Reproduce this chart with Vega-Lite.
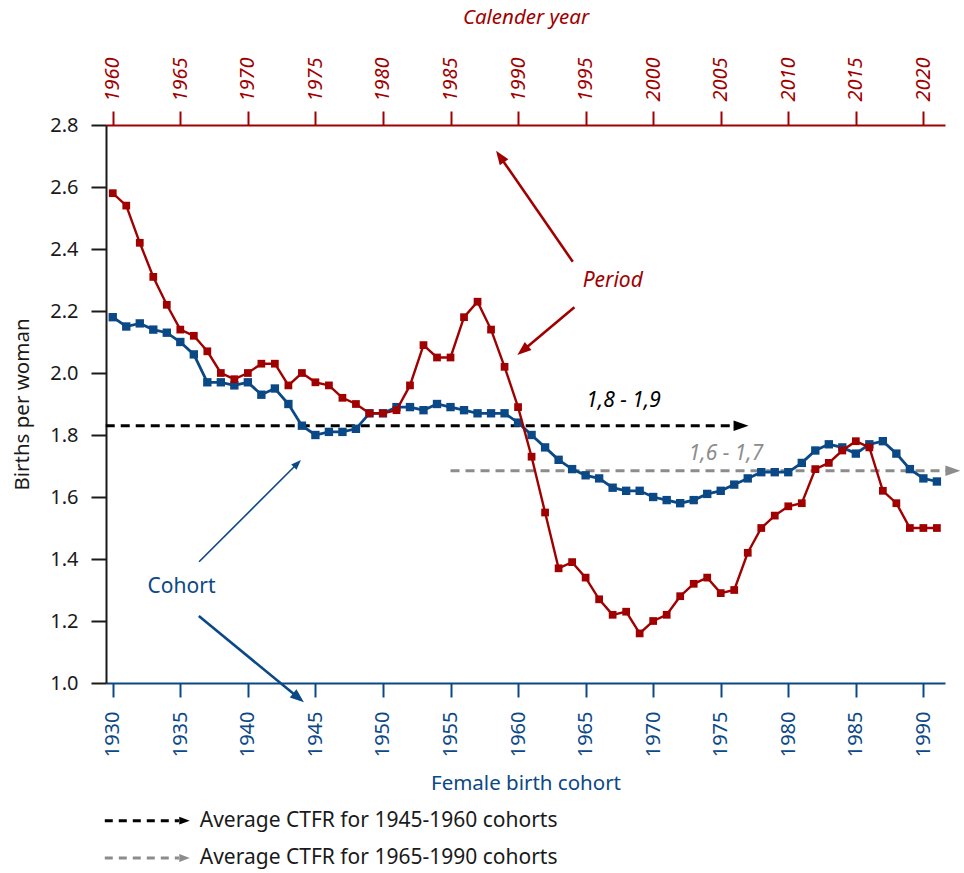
{
  "$schema": "https://vega.github.io/schema/vega-lite/v6.json",
  "width": 839,
  "height": 558,
  "autosize": {"type": "none"},
  "padding": {"left": 106, "top": 125, "right": 19, "bottom": 190},
  "config": {"font": "Noto Sans", "view": {"stroke": null}},
  "datasets": {
    "cohort": [
      {"cohort":1930,"tfr":2.18},{"cohort":1931,"tfr":2.15},{"cohort":1932,"tfr":2.16},{"cohort":1933,"tfr":2.14},{"cohort":1934,"tfr":2.13},
      {"cohort":1935,"tfr":2.10},{"cohort":1936,"tfr":2.06},{"cohort":1937,"tfr":1.97},{"cohort":1938,"tfr":1.97},{"cohort":1939,"tfr":1.96},
      {"cohort":1940,"tfr":1.97},{"cohort":1941,"tfr":1.93},{"cohort":1942,"tfr":1.95},{"cohort":1943,"tfr":1.90},{"cohort":1944,"tfr":1.83},
      {"cohort":1945,"tfr":1.80},{"cohort":1946,"tfr":1.81},{"cohort":1947,"tfr":1.81},{"cohort":1948,"tfr":1.82},{"cohort":1949,"tfr":1.87},
      {"cohort":1950,"tfr":1.87},{"cohort":1951,"tfr":1.89},{"cohort":1952,"tfr":1.89},{"cohort":1953,"tfr":1.88},{"cohort":1954,"tfr":1.90},
      {"cohort":1955,"tfr":1.89},{"cohort":1956,"tfr":1.88},{"cohort":1957,"tfr":1.87},{"cohort":1958,"tfr":1.87},{"cohort":1959,"tfr":1.87},
      {"cohort":1960,"tfr":1.84},{"cohort":1961,"tfr":1.80},{"cohort":1962,"tfr":1.76},{"cohort":1963,"tfr":1.72},{"cohort":1964,"tfr":1.69},
      {"cohort":1965,"tfr":1.67},{"cohort":1966,"tfr":1.66},{"cohort":1967,"tfr":1.63},{"cohort":1968,"tfr":1.62},{"cohort":1969,"tfr":1.62},
      {"cohort":1970,"tfr":1.60},{"cohort":1971,"tfr":1.59},{"cohort":1972,"tfr":1.58},{"cohort":1973,"tfr":1.59},{"cohort":1974,"tfr":1.61},
      {"cohort":1975,"tfr":1.62},{"cohort":1976,"tfr":1.64},{"cohort":1977,"tfr":1.66},{"cohort":1978,"tfr":1.68},{"cohort":1979,"tfr":1.68},
      {"cohort":1980,"tfr":1.68},{"cohort":1981,"tfr":1.71},{"cohort":1982,"tfr":1.75},{"cohort":1983,"tfr":1.77},{"cohort":1984,"tfr":1.76},
      {"cohort":1985,"tfr":1.74},{"cohort":1986,"tfr":1.77},{"cohort":1987,"tfr":1.78},{"cohort":1988,"tfr":1.74},{"cohort":1989,"tfr":1.69},
      {"cohort":1990,"tfr":1.66},{"cohort":1991,"tfr":1.65}
    ],
    "period": [
      {"year":1960,"tfr":2.58},{"year":1961,"tfr":2.54},{"year":1962,"tfr":2.42},{"year":1963,"tfr":2.31},{"year":1964,"tfr":2.22},
      {"year":1965,"tfr":2.14},{"year":1966,"tfr":2.12},{"year":1967,"tfr":2.07},{"year":1968,"tfr":2.00},{"year":1969,"tfr":1.98},
      {"year":1970,"tfr":2.00},{"year":1971,"tfr":2.03},{"year":1972,"tfr":2.03},{"year":1973,"tfr":1.96},{"year":1974,"tfr":2.00},
      {"year":1975,"tfr":1.97},{"year":1976,"tfr":1.96},{"year":1977,"tfr":1.92},{"year":1978,"tfr":1.90},{"year":1979,"tfr":1.87},
      {"year":1980,"tfr":1.87},{"year":1981,"tfr":1.88},{"year":1982,"tfr":1.96},{"year":1983,"tfr":2.09},{"year":1984,"tfr":2.05},
      {"year":1985,"tfr":2.05},{"year":1986,"tfr":2.18},{"year":1987,"tfr":2.23},{"year":1988,"tfr":2.14},{"year":1989,"tfr":2.02},
      {"year":1990,"tfr":1.89},{"year":1991,"tfr":1.73},{"year":1992,"tfr":1.55},{"year":1993,"tfr":1.37},{"year":1994,"tfr":1.39},
      {"year":1995,"tfr":1.34},{"year":1996,"tfr":1.27},{"year":1997,"tfr":1.22},{"year":1998,"tfr":1.23},{"year":1999,"tfr":1.16},
      {"year":2000,"tfr":1.20},{"year":2001,"tfr":1.22},{"year":2002,"tfr":1.28},{"year":2003,"tfr":1.32},{"year":2004,"tfr":1.34},
      {"year":2005,"tfr":1.29},{"year":2006,"tfr":1.30},{"year":2007,"tfr":1.42},{"year":2008,"tfr":1.50},{"year":2009,"tfr":1.54},
      {"year":2010,"tfr":1.57},{"year":2011,"tfr":1.58},{"year":2012,"tfr":1.69},{"year":2013,"tfr":1.71},{"year":2014,"tfr":1.75},
      {"year":2015,"tfr":1.78},{"year":2016,"tfr":1.76},{"year":2017,"tfr":1.62},{"year":2018,"tfr":1.58},{"year":2019,"tfr":1.50},
      {"year":2020,"tfr":1.50},{"year":2021,"tfr":1.50}
    ],
    "avg": [
      {"group":"1945-1960","label":"1,8 - 1,9","x":1929.48,"x2":1976.1,"tip":1977.06,"y":1.83,"lx":1967.8,"ly":1.911},
      {"group":"1965-1990","label":"1,6 - 1,7","x":1955.0,"x2":1991.85,"tip":1992.74,"y":1.685,"lx":1975.39,"ly":1.739}
    ],
    "legend": [
      {"group":"1945-1960","x":1929.41,"x2":1934.9,"tip":1935.7,"tx":1936.44,"y":0.556,"label":"Average CTFR for 1945-1960 cohorts"},
      {"group":"1965-1990","x":1929.41,"x2":1934.9,"tip":1935.7,"tx":1936.44,"y":0.4355,"label":"Average CTFR for 1965-1990 cohorts"}
    ],
    "arrows": [
      {"key":"period1","x":1964.05,"y":2.359,"x2":1958.62,"y2":2.701,"hx":1958.37,"hy":2.717},
      {"key":"period2","x":1964.17,"y":2.212,"x2":1960.29,"y2":2.0705,"hx":1959.95,"hy":2.058},
      {"key":"cohort1","x":1936.39,"y":1.391,"x2":1943.67,"y2":1.708,"hx":1943.93,"hy":1.719},
      {"key":"cohort2","x":1936.37,"y":1.216,"x2":1943.81,"y2":0.95,"hx":1944.15,"hy":0.938}
    ],
    "labels": [
      {"key":"Period","x":1967.01,"y":2.298},
      {"key":"Cohort","x":1935.09,"y":1.309}
    ]
  },
  "layer": [
    {
      "data": {"name": "avg"},
      "mark": {"type": "rule", "strokeWidth": 3, "strokeDash": [9, 6]},
      "encoding": {
        "x": {"field": "x", "type": "quantitative", "scale": {"domain": [1929.5, 1991.6], "nice": false, "zero": false}, "axis": null},
        "x2": {"field": "x2"},
        "y": {"field": "y", "type": "quantitative", "scale": {"domain": [1.0, 2.8], "nice": false, "zero": false}, "axis": null},
        "color": {"field": "group", "type": "nominal", "scale": {"domain": ["1945-1960", "1965-1990"], "range": ["#000000", "#8c8c8c"]}, "legend": null}
      }
    },
    {
      "data": {"name": "avg"},
      "mark": {"type": "point", "shape": "M0,0L-2,-0.7L-2,0.7Z", "filled": true, "opacity": 1, "size": 225, "angle": 0},
      "encoding": {
        "x": {"field": "tip", "type": "quantitative", "scale": {"domain": [1929.5, 1991.6], "nice": false, "zero": false}, "axis": null},
        "y": {"field": "y", "type": "quantitative", "scale": {"domain": [1.0, 2.8], "nice": false, "zero": false}, "axis": null},
        "color": {"field": "group", "type": "nominal", "scale": {"domain": ["1945-1960", "1965-1990"], "range": ["#000000", "#8c8c8c"]}, "legend": null}
      }
    },
    {
      "data": {"name": "avg"},
      "mark": {"type": "text", "fontSize": 21, "fontStyle": "italic", "align": "center", "baseline": "middle"},
      "encoding": {
        "x": {"field": "lx", "type": "quantitative", "scale": {"domain": [1929.5, 1991.6], "nice": false, "zero": false}, "axis": null},
        "y": {"field": "ly", "type": "quantitative", "scale": {"domain": [1.0, 2.8], "nice": false, "zero": false}, "axis": null},
        "text": {"field": "label"},
        "color": {"field": "group", "type": "nominal", "scale": {"domain": ["1945-1960", "1965-1990"], "range": ["#000000", "#8c8c8c"]}, "legend": null}
      }
    },
    {
      "data": {"name": "legend"},
      "mark": {"type": "rule", "strokeWidth": 3, "strokeDash": [8, 6]},
      "encoding": {
        "x": {"field": "x", "type": "quantitative", "scale": {"domain": [1929.5, 1991.6], "nice": false, "zero": false}, "axis": null},
        "x2": {"field": "x2"},
        "y": {"field": "y", "type": "quantitative", "scale": {"domain": [1.0, 2.8], "nice": false, "zero": false}, "axis": null},
        "color": {"field": "group", "type": "nominal", "scale": {"domain": ["1945-1960", "1965-1990"], "range": ["#000000", "#8c8c8c"]}, "legend": null}
      }
    },
    {
      "data": {"name": "legend"},
      "mark": {"type": "point", "shape": "M0,0L-2,-0.75L-2,0.75Z", "filled": true, "opacity": 1, "size": 110, "angle": 0},
      "encoding": {
        "x": {"field": "tip", "type": "quantitative", "scale": {"domain": [1929.5, 1991.6], "nice": false, "zero": false}, "axis": null},
        "y": {"field": "y", "type": "quantitative", "scale": {"domain": [1.0, 2.8], "nice": false, "zero": false}, "axis": null},
        "color": {"field": "group", "type": "nominal", "scale": {"domain": ["1945-1960", "1965-1990"], "range": ["#000000", "#8c8c8c"]}, "legend": null}
      }
    },
    {
      "data": {"name": "legend"},
      "mark": {"type": "text", "fontSize": 21, "align": "left", "baseline": "middle", "color": "#1a1a1a"},
      "encoding": {
        "x": {"field": "tx", "type": "quantitative", "scale": {"domain": [1929.5, 1991.6], "nice": false, "zero": false}, "axis": null},
        "y": {"field": "y", "type": "quantitative", "scale": {"domain": [1.0, 2.8], "nice": false, "zero": false}, "axis": null},
        "text": {"field": "label"}
      }
    },
    {
      "data": {"name": "cohort"},
      "mark": {"type": "line", "color": "#0b4886", "strokeWidth": 2.8},
      "encoding": {
        "x": {"field": "cohort", "type": "quantitative", "scale": {"domain": [1929.5, 1991.6], "nice": false, "zero": false},
          "axis": {"orient": "bottom", "values": [1930,1935,1940,1945,1950,1955,1960,1965,1970,1975,1980,1985,1990], "format": "d",
            "labelAngle": -90, "labelAlign": "right", "labelBaseline": "middle", "labelColor": "#0b4886", "labelFontSize": 20, "labelPadding": 14,
            "tickColor": "#0b4886", "tickSize": 14, "tickWidth": 2, "domainColor": "#0b4886", "domainWidth": 2, "grid": false,
            "title": "Female birth cohort", "titleColor": "#0b4886", "titleFontSize": 20.5, "titleFontWeight": "normal", "titlePadding": 17}},
        "y": {"field": "tfr", "type": "quantitative", "scale": {"domain": [1.0, 2.8], "nice": false, "zero": false},
          "axis": {"orient": "left", "values": [1.0,1.2,1.4,1.6,1.8,2.0,2.2,2.4,2.6,2.8], "format": ".1f",
            "labelColor": "#1a1a1a", "labelFontSize": 20, "labelPadding": 13, "tickColor": "#1a1a1a", "tickSize": 15, "tickWidth": 2,
            "domainColor": "#1a1a1a", "domainWidth": 2, "grid": false,
            "title": "Births per woman", "titleColor": "#1a1a1a", "titleFontSize": 20.5, "titleFontWeight": "normal", "titlePadding": 17}}
      }
    },
    {
      "data": {"name": "cohort"},
      "mark": {"type": "point", "shape": "square", "filled": true, "opacity": 1, "size": 70, "color": "#0b4886"},
      "encoding": {
        "x": {"field": "cohort", "type": "quantitative", "scale": {"domain": [1929.5, 1991.6], "nice": false, "zero": false}, "axis": null},
        "y": {"field": "tfr", "type": "quantitative", "scale": {"domain": [1.0, 2.8], "nice": false, "zero": false}, "axis": null}
      }
    },
    {
      "data": {"name": "arrows"},
      "transform": [{"filter": "datum.key === 'period1' || datum.key === 'period2'"}],
      "mark": {"type": "rule", "strokeWidth": 2.6, "color": "#a00000"},
      "encoding": {
        "x": {"field": "x", "type": "quantitative", "scale": {"domain": [1929.5, 1991.6], "nice": false, "zero": false}, "axis": null},
        "y": {"field": "y", "type": "quantitative", "scale": {"domain": [1.0, 2.8], "nice": false, "zero": false}, "axis": null},
        "x2": {"field": "x2"},
        "y2": {"field": "y2"}
      }
    },
    {
      "data": {"name": "arrows"},
      "transform": [{"filter": "datum.key === 'cohort1'"}],
      "mark": {"type": "rule", "strokeWidth": 1.6, "color": "#0b4886"},
      "encoding": {
        "x": {"field": "x", "type": "quantitative", "scale": {"domain": [1929.5, 1991.6], "nice": false, "zero": false}, "axis": null},
        "y": {"field": "y", "type": "quantitative", "scale": {"domain": [1.0, 2.8], "nice": false, "zero": false}, "axis": null},
        "x2": {"field": "x2"},
        "y2": {"field": "y2"}
      }
    },
    {
      "data": {"name": "arrows"},
      "transform": [{"filter": "datum.key === 'cohort2'"}],
      "mark": {"type": "rule", "strokeWidth": 2.6, "color": "#0b4886"},
      "encoding": {
        "x": {"field": "x", "type": "quantitative", "scale": {"domain": [1929.5, 1991.6], "nice": false, "zero": false}, "axis": null},
        "y": {"field": "y", "type": "quantitative", "scale": {"domain": [1.0, 2.8], "nice": false, "zero": false}, "axis": null},
        "x2": {"field": "x2"},
        "y2": {"field": "y2"}
      }
    },
    {
      "data": {"name": "arrows"},
      "transform": [{"filter": "datum.key === 'period1'"}],
      "mark": {"type": "point", "shape": "M0,0L-2,-0.75L-2,0.75Z", "filled": true, "opacity": 1, "size": 196, "angle": 235, "color": "#a00000"},
      "encoding": {
        "x": {"field": "hx", "type": "quantitative", "scale": {"domain": [1929.5, 1991.6], "nice": false, "zero": false}, "axis": null},
        "y": {"field": "hy", "type": "quantitative", "scale": {"domain": [1.0, 2.8], "nice": false, "zero": false}, "axis": null}
      }
    },
    {
      "data": {"name": "arrows"},
      "transform": [{"filter": "datum.key === 'period2'"}],
      "mark": {"type": "point", "shape": "M0,0L-2,-0.75L-2,0.75Z", "filled": true, "opacity": 1, "size": 196, "angle": 140, "color": "#a00000"},
      "encoding": {
        "x": {"field": "hx", "type": "quantitative", "scale": {"domain": [1929.5, 1991.6], "nice": false, "zero": false}, "axis": null},
        "y": {"field": "hy", "type": "quantitative", "scale": {"domain": [1.0, 2.8], "nice": false, "zero": false}, "axis": null}
      }
    },
    {
      "data": {"name": "arrows"},
      "transform": [{"filter": "datum.key === 'cohort1'"}],
      "mark": {"type": "point", "shape": "M0,0L-2,-0.75L-2,0.75Z", "filled": true, "opacity": 1, "size": 100, "angle": 315, "color": "#0b4886"},
      "encoding": {
        "x": {"field": "hx", "type": "quantitative", "scale": {"domain": [1929.5, 1991.6], "nice": false, "zero": false}, "axis": null},
        "y": {"field": "hy", "type": "quantitative", "scale": {"domain": [1.0, 2.8], "nice": false, "zero": false}, "axis": null}
      }
    },
    {
      "data": {"name": "arrows"},
      "transform": [{"filter": "datum.key === 'cohort2'"}],
      "mark": {"type": "point", "shape": "M0,0L-2,-0.75L-2,0.75Z", "filled": true, "opacity": 1, "size": 196, "angle": 39.4, "color": "#0b4886"},
      "encoding": {
        "x": {"field": "hx", "type": "quantitative", "scale": {"domain": [1929.5, 1991.6], "nice": false, "zero": false}, "axis": null},
        "y": {"field": "hy", "type": "quantitative", "scale": {"domain": [1.0, 2.8], "nice": false, "zero": false}, "axis": null}
      }
    },
    {
      "data": {"name": "labels"},
      "transform": [{"filter": "datum.key === 'Period'"}],
      "mark": {"type": "text", "fontSize": 21, "fontStyle": "italic", "align": "center", "baseline": "middle", "color": "#a00000"},
      "encoding": {
        "x": {"field": "x", "type": "quantitative", "scale": {"domain": [1929.5, 1991.6], "nice": false, "zero": false}, "axis": null},
        "y": {"field": "y", "type": "quantitative", "scale": {"domain": [1.0, 2.8], "nice": false, "zero": false}, "axis": null},
        "text": {"field": "key"}
      }
    },
    {
      "data": {"name": "labels"},
      "transform": [{"filter": "datum.key === 'Cohort'"}],
      "mark": {"type": "text", "fontSize": 21, "align": "center", "baseline": "middle", "color": "#0b4886"},
      "encoding": {
        "x": {"field": "x", "type": "quantitative", "scale": {"domain": [1929.5, 1991.6], "nice": false, "zero": false}, "axis": null},
        "y": {"field": "y", "type": "quantitative", "scale": {"domain": [1.0, 2.8], "nice": false, "zero": false}, "axis": null},
        "text": {"field": "key"}
      }
    },
    {
      "data": {"name": "period"},
      "mark": {"type": "line", "color": "#a00000", "strokeWidth": 2.4},
      "encoding": {
        "x": {"field": "year", "type": "quantitative", "scale": {"domain": [1959.5, 2021.6], "nice": false, "zero": false},
          "axis": {"orient": "top", "values": [1960,1965,1970,1975,1980,1985,1990,1995,2000,2005,2010,2015,2020], "format": "d",
            "labelAngle": -90, "labelAlign": "left", "labelBaseline": "middle", "labelColor": "#a00000", "labelFontSize": 20, "labelFontStyle": "italic", "labelPadding": 10,
            "tickColor": "#a00000", "tickSize": 14, "tickWidth": 2, "domainColor": "#a00000", "domainWidth": 2, "grid": false,
            "title": "Calender year", "titleColor": "#a00000", "titleFontSize": 20.5, "titleFontStyle": "italic", "titleFontWeight": "normal", "titlePadding": 29}},
        "y": {"field": "tfr", "type": "quantitative", "scale": {"domain": [1.0, 2.8], "nice": false, "zero": false}, "axis": null}
      }
    },
    {
      "data": {"name": "period"},
      "mark": {"type": "point", "shape": "square", "filled": true, "opacity": 1, "size": 60, "color": "#a00000"},
      "encoding": {
        "x": {"field": "year", "type": "quantitative", "scale": {"domain": [1959.5, 2021.6], "nice": false, "zero": false}, "axis": null},
        "y": {"field": "tfr", "type": "quantitative", "scale": {"domain": [1.0, 2.8], "nice": false, "zero": false}, "axis": null}
      }
    }
  ],
  "resolve": {"scale": {"x": "independent", "y": "independent"}, "axis": {"x": "independent", "y": "independent"}}
}
